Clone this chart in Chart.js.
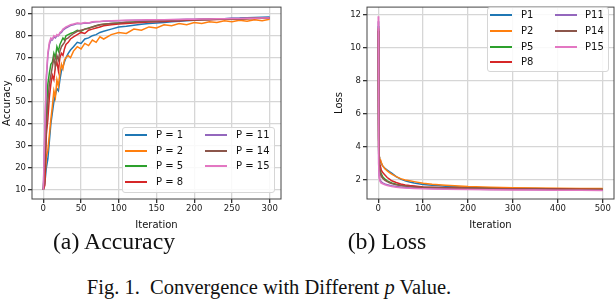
<!DOCTYPE html>
<html>
<head>
<meta charset="utf-8">
<script src="https://cdn.jsdelivr.net/npm/chart.js@4.4.0/dist/chart.umd.min.js"></script>
<style>
    body { margin: 0; width: 616px; height: 300px; background: #fff; position: relative; overflow: hidden; font-family: "DejaVu Sans", sans-serif; }
    .plot { position: absolute; }
    .legend { position: absolute; background: rgba(255,255,255,0.85); border: 1px solid #d6d6d6; border-radius: 3px; box-sizing: border-box; }
    .legend .sample { position: absolute; height: 2px; width: 22px; }
    .legend .label { position: absolute; font-size: 10px; line-height: 12px; color: #111; white-space: nowrap; }
    .caption { position: absolute; font-family: "Liberation Serif", "Times New Roman", serif; color: #111; white-space: nowrap; transform: translateX(-50%); line-height: 1; }
</style>
</head>
<body>
<div class="plot" style="left:0;top:0;width:282px;height:231px"><canvas id="accChart"></canvas></div>
<div class="plot" style="left:310px;top:0;width:305px;height:231px"><canvas id="lossChart"></canvas></div>
<div class="legend" id="accLegend" style="left:122px;top:127px;width:153px;height:66px"></div>
<div class="legend" id="lossLegend" style="left:487px;top:7px;width:122px;height:65px"></div>
<div class="caption" style="left:114px;top:230px;font-size:23.8px">(a) Accuracy</div>
<div class="caption" style="left:387px;top:230px;font-size:23.8px">(b) Loss</div>
<div class="caption" style="left:269px;top:277px;font-size:20.5px">Fig. 1.&nbsp; Convergence with Different <i>p</i> Value.</div>

<script>
const colors = ['#1f77b4', '#ff7f0e', '#2ca02c', '#d62728', '#9467bd', '#8c564b', '#e377c2'];
const accNames = ['P = 1', 'P = 2', 'P = 5', 'P = 8', 'P = 11', 'P = 14', 'P = 15'];
const lossNames = ['P1', 'P2', 'P5', 'P8', 'P11', 'P14', 'P15'];

// accuracy
const accIter = [0, 2, 4, 6, 8, 10, 12, 14, 16, 18, 20, 22, 24, 26, 28, 30, 33, 36, 40, 45, 50, 55, 60, 65, 70, 75, 80,
    90, 100, 110, 120, 130, 140, 150, 160, 170, 180, 190, 200, 210, 220, 230, 240, 250, 260, 270, 280, 290, 300];
const accP1 = [10, 13, 20, 24, 32, 40, 45, 50, 53, 56, 55, 60, 64, 66, 68, 70, 72, 73.5, 75, 77, 76.5, 78.5, 79, 80, 80.5, 81.5, 82,
    83, 84, 84.3, 84.8, 85.2, 85.5, 85.8, 86, 86.3, 86.6, 86.8, 87, 87.2, 87.4, 87.6, 87.7, 87.9, 88, 88.2, 88.3, 88.4, 88.5];
const accP2 = [10, 15, 25, 28, 35, 42, 48, 55, 52, 60, 57, 63, 67, 65, 69, 70, 71, 70, 73, 75, 74, 76.5, 75.5, 78, 77, 79.5, 78.5,
    80.5, 81.5, 81, 83, 82.5, 84, 83.5, 85, 84.5, 85.5, 85, 86, 85.5, 86.3, 86, 86.8, 86.3, 87, 86.6, 87.3, 86.8, 87.5];
const accP5 = [10, 25, 45, 58, 63, 67, 68, 72, 70, 75, 73, 76, 77.5, 79, 78, 80, 80.5, 81, 81.5, 82.5, 82, 83, 83.5, 84, 84.5, 85, 85.2,
    85.5, 85.8, 86, 86.2, 86.4, 86.5, 86.6, 86.8, 87, 87, 87.2, 87.3, 87.4, 87.4, 87.5, 87.6, 87.7, 87.7, 87.8, 87.9, 88, 88];
const accP8 = [10, 12, 35, 42, 52, 58, 62, 60, 66, 68, 64, 70, 72, 71, 74, 76, 77, 78.5, 79.5, 80.5, 81.5, 81, 82.5, 83, 83.5, 84, 84.5,
    85, 85.3, 85.5, 85.8, 86, 86.2, 86.3, 86.5, 86.7, 86.8, 87, 87.1, 87.2, 87.3, 87.4, 87.5, 87.6, 87.6, 87.7, 87.8, 87.9, 88];
const accP11 = [10, 35, 60, 71, 76, 78, 78, 79.5, 79, 80, 80, 81, 81.5, 82.5, 83, 83.5, 84, 84.6, 85, 85.5, 85.4, 85.8, 85.7, 86.1, 86.3, 86.4, 86.6,
    86.7, 86.8, 86.9, 87, 87, 87.1, 87.2, 87.3, 87.3, 87.4, 87.5, 87.5, 87.6, 87.6, 87.7, 87.7, 87.8, 87.8, 87.9, 87.9, 88, 88];
const accP14 = [10, 22, 38, 50, 58, 62, 66, 70, 66, 71, 69, 73, 75, 76, 77, 78.5, 79, 80, 81, 82, 82.5, 83, 83.3, 84, 84.5, 85, 85.2,
    85.6, 85.8, 86.1, 86.2, 86.4, 86.6, 86.7, 86.8, 87, 87.1, 87.2, 87.3, 87.4, 87.5, 87.5, 87.6, 87.7, 87.7, 87.8, 87.9, 87.9, 88];
const accP15 = [10, 38, 62, 72, 77, 79, 78.5, 80, 79.5, 80.5, 80, 81.5, 82, 83, 83.5, 84, 84.5, 85, 85.3, 85.8, 85.6, 86, 85.8, 86.3, 86.5, 86.5, 86.7,
    86.8, 86.9, 87, 87, 87.1, 87.2, 87.2, 87.3, 87.4, 87.4, 87.5, 87.5, 87.6, 87.6, 87.7, 87.7, 87.8, 87.8, 87.9, 87.9, 88, 88];

// loss
const lossIter = [0, 1, 2, 3, 4, 5, 7, 10, 15, 20, 25, 30, 40, 50, 60, 70, 80, 100, 120, 150, 200, 250, 300, 350, 400, 450, 500];
const lossP1 = [11.3, 4.5, 3.4, 3.3, 3.2, 3.15, 3.0, 2.85, 2.7, 2.6, 2.5, 2.42, 2.2, 2.05, 1.95, 1.88, 1.82, 1.72, 1.68, 1.62, 1.56, 1.52, 1.5, 1.48, 1.46, 1.45, 1.44];
const lossP2 = [11.2, 4.4, 3.4, 3.3, 3.25, 3.2, 3.05, 2.85, 2.68, 2.55, 2.45, 2.35, 2.2, 2.08, 2.0, 1.95, 1.9, 1.8, 1.74, 1.68, 1.6, 1.56, 1.53, 1.51, 1.5, 1.49, 1.48];
const lossP5 = [11.0, 3.8, 3.0, 2.8, 2.6, 2.5, 2.35, 2.2, 2.05, 1.95, 1.88, 1.82, 1.74, 1.68, 1.65, 1.62, 1.6, 1.56, 1.54, 1.52, 1.5, 1.48, 1.46, 1.45, 1.44, 1.43, 1.42];
const lossP8 = [11.1, 4.0, 3.2, 3.0, 2.9, 2.8, 2.6, 2.45, 2.3, 2.15, 2.05, 1.95, 1.85, 1.76, 1.7, 1.66, 1.63, 1.58, 1.56, 1.53, 1.5, 1.48, 1.47, 1.46, 1.45, 1.44, 1.43];
const lossP11 = [11.6, 3.0, 2.3, 2.1, 2.0, 1.95, 1.88, 1.82, 1.76, 1.72, 1.68, 1.65, 1.6, 1.57, 1.55, 1.53, 1.52, 1.5, 1.49, 1.47, 1.45, 1.43, 1.42, 1.41, 1.4, 1.39, 1.38];
const lossP14 = [11.0, 3.6, 2.9, 2.7, 2.5, 2.4, 2.25, 2.1, 1.98, 1.9, 1.83, 1.78, 1.71, 1.66, 1.63, 1.6, 1.58, 1.55, 1.53, 1.51, 1.49, 1.47, 1.46, 1.45, 1.44, 1.43, 1.42];
const lossP15 = [11.9, 2.9, 2.2, 2.0, 1.92, 1.88, 1.82, 1.77, 1.71, 1.67, 1.63, 1.6, 1.56, 1.53, 1.51, 1.5, 1.49, 1.47, 1.46, 1.44, 1.42, 1.41, 1.4, 1.39, 1.38, 1.38, 1.37];

const accXTicks = [0, 50, 100, 150, 200, 250, 300];
const accYTicks = [10, 20, 30, 40, 50, 60, 70, 80, 90];
const lossXTicks = [0, 100, 200, 300, 400, 500];
const lossYTicks = [2, 4, 6, 8, 10, 12];

const tickFont = { family: 'DejaVu Sans', size: 8.5 };
const titleFont = { family: 'DejaVu Sans', size: 10 };

// full box round the plot area, like matplotlib spines
const framePlugin = {
    id: 'frame',
    afterDraw(chart) {
        const a = chart.chartArea;
        const ctx = chart.ctx;
        ctx.save();
        ctx.strokeStyle = '#444';
        ctx.lineWidth = 1;
        ctx.strokeRect(a.left, a.top, a.right - a.left, a.bottom - a.top);
        ctx.restore();
    }
};

function toPoints(xs, ys) {
    return xs.map((x, i) => ({ x: x, y: ys[i] }));
}

function makeChart(canvasId, iters, seriesList, names, opts) {
    const datasets = seriesList.map((ys, i) => ({
        label: names[i],
        data: toPoints(iters, ys),
        borderColor: colors[i],
        borderWidth: 1.5,
        pointRadius: 0,
        tension: 0,
        fill: false,
        order: seriesList.length - i
    }));

    return new Chart(document.getElementById(canvasId), {
        type: 'line',
        data: { datasets: datasets },
        plugins: [framePlugin],
        options: {
            responsive: true,
            maintainAspectRatio: false,
            animation: false,
            layout: { padding: { top: 1, right: 1, left: 0, bottom: 0 } },
            plugins: { legend: { display: false }, tooltip: { enabled: false } },
            scales: {
                x: {
                    type: 'linear',
                    min: opts.xMin,
                    max: opts.xMax,
                    afterBuildTicks: scale => { scale.ticks = opts.xTicks.map(v => ({ value: v })); },
                    afterFit: scale => { scale.height = opts.xHeight; },
                    grid: { color: '#d6d6d6', lineWidth: 1.3, tickColor: '#333', tickLength: 4 },
                    border: { display: false },
                    ticks: { font: tickFont, color: '#222', padding: 1, maxRotation: 0 },
                    title: { display: true, text: 'Iteration', font: titleFont, color: '#111', padding: { top: 4, bottom: 0 } }
                },
                y: {
                    type: 'linear',
                    min: opts.yMin,
                    max: opts.yMax,
                    afterBuildTicks: scale => { scale.ticks = opts.yTicks.map(v => ({ value: v })); },
                    afterFit: scale => { scale.width = opts.yWidth; },
                    grid: { color: '#d6d6d6', lineWidth: 1.3, tickColor: '#333', tickLength: 4 },
                    border: { display: false },
                    ticks: { font: tickFont, color: '#222', padding: 2 },
                    title: { display: true, text: opts.yTitle, font: titleFont, color: '#111', padding: { top: opts.yTitlePad, bottom: 0 } }
                }
            }
        }
    });
}

function buildLegend(boxId, names, layout) {
    const box = document.getElementById(boxId);
    names.forEach((name, i) => {
        const col = i < 4 ? 0 : 1;
        const row = i < 4 ? i : i - 4;
        const cy = layout.firstRow + row * layout.rowStep;
        const sample = document.createElement('div');
        sample.className = 'sample';
        sample.style.background = colors[i];
        sample.style.left = layout.sampleX[col] + 'px';
        sample.style.top = (cy - 1) + 'px';
        const label = document.createElement('div');
        label.className = 'label';
        label.textContent = name;
        label.style.left = layout.textX[col] + 'px';
        label.style.top = (cy - 6) + 'px';
        box.appendChild(sample);
        box.appendChild(label);
    });
}

makeChart('accChart', accIter, [accP1, accP2, accP5, accP8, accP11, accP14, accP15], accNames, {
    xMin: -15, xMax: 315, yMin: 5.8, yMax: 93,
    xTicks: accXTicks, yTicks: accYTicks,
    xHeight: 32, yWidth: 32, yTitle: 'Accuracy', yTitlePad: 1
});

makeChart('lossChart', lossIter, [lossP1, lossP2, lossP5, lossP8, lossP11, lossP14, lossP15], lossNames, {
    xMin: -25, xMax: 525, yMin: 0.85, yMax: 12.45,
    xTicks: lossXTicks, yTicks: lossYTicks,
    xHeight: 32, yWidth: 57, yTitle: 'Loss', yTitlePad: 23
});

buildLegend('accLegend', accNames, { firstRow: 7, rowStep: 15.6, sampleX: [2, 82], textX: [33, 113] });
buildLegend('lossLegend', lossNames, { firstRow: 7, rowStep: 15.8, sampleX: [2, 67], textX: [33, 97] });
</script>
</body>
</html>
